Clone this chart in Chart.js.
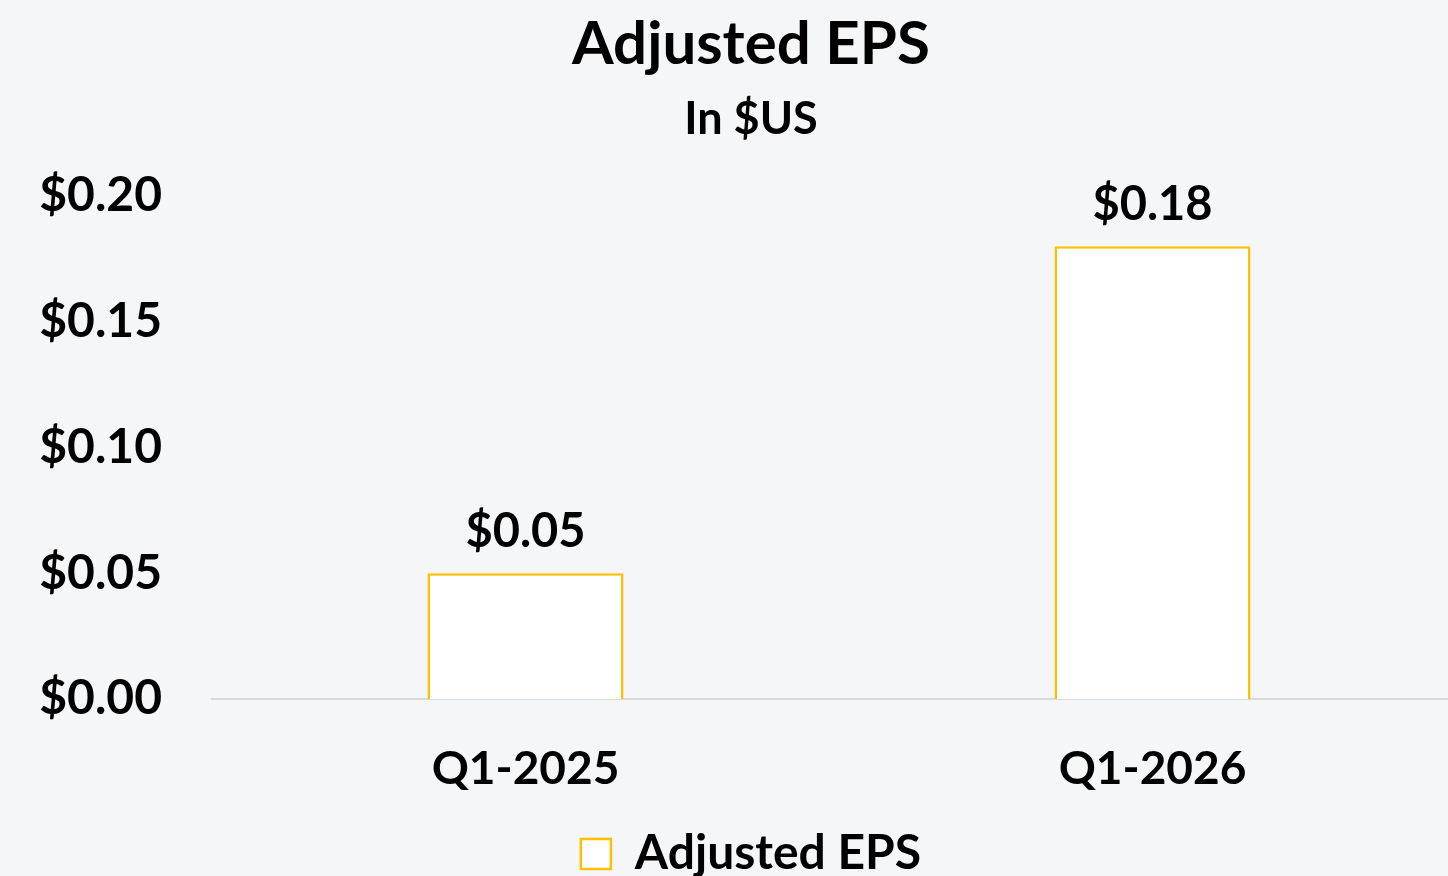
<!DOCTYPE html>
<html>
<head>
<meta charset="utf-8">
<script src="https://cdn.jsdelivr.net/npm/chart.js@4.4.1/dist/chart.umd.min.js"></script>
<style>
  html, body { margin: 0; padding: 0; background: #f5f6f8; overflow: hidden; }
  #wrap { width: 1466px; height: 888px; }
</style>
</head>
<body>
<div id="wrap"><canvas id="eps-chart"></canvas></div>
<script>
const categories = ["Q1-2025", "Q1-2026"];
const epsValues = [0.05, 0.18];
const yTicks = [0, 0.05, 0.1, 0.15, 0.2];

const FONT = "Lato, 'Open Sans', sans-serif";
const money = (v) => "$" + Number(v).toFixed(2);

// draws the value above each bar
const barValueLabels = {
  id: "barValueLabels",
  afterDatasetsDraw(chart) {
    const ctx = chart.ctx;
    const meta = chart.getDatasetMeta(0);
    ctx.save();
    ctx.font = "bold 47px " + FONT;
    ctx.fillStyle = "#000";
    ctx.textAlign = "center";
    ctx.textBaseline = "bottom";
    meta.data.forEach((bar, i) => {
      ctx.fillText(money(chart.data.datasets[0].data[i]), bar.x, bar.y - 18);
    });
    ctx.restore();
  },
};

new Chart("eps-chart", {
  type: "bar",
  data: {
    labels: categories,
    datasets: [
      {
        label: "Adjusted EPS",
        data: epsValues,
        backgroundColor: "#ffffff",
        borderColor: "#ffc000",
        borderWidth: 2.5,
        barPercentage: 1,
        categoryPercentage: 0.3126,
      },
    ],
  },
  options: {
    responsive: true,
    maintainAspectRatio: false,
    animation: false,
    layout: { padding: { left: 36, right: 0, top: 0, bottom: 0 } },
    plugins: {
      title: {
        display: true,
        text: "Adjusted EPS",
        color: "#000",
        font: { family: FONT, size: 60, weight: "bold" },
        padding: { top: 9, bottom: 0 },
      },
      subtitle: {
        display: true,
        text: "In $US",
        color: "#000",
        font: { family: FONT, size: 45, weight: "bold" },
        padding: { top: 11, bottom: 50 },
      },
      legend: {
        position: "bottom",
        labels: {
          color: "#000",
          font: { family: FONT, size: 48, weight: "bold" },
          boxWidth: 30,
          boxHeight: 30,
          padding: 10,
        },
      },
      tooltip: { enabled: false },
    },
    scales: {
      x: {
        grid: { display: false, drawTicks: false },
        border: { display: true, color: "#d9d9d9", width: 2 },
        ticks: {
          color: "#000",
          padding: 43,
          font: { family: FONT, size: 46, weight: "bold" },
        },
        afterFit: (scale) => { scale.height = 121; },
      },
      y: {
        min: 0,
        max: 0.2,
        grid: { display: false, drawTicks: false },
        border: { display: false },
        afterBuildTicks: (scale) => { scale.ticks = yTicks.map((v) => ({ value: v })); },
        ticks: {
          color: "#000",
          padding: 50,
          font: { family: FONT, size: 48, weight: "bold" },
          callback: (v) => money(v),
        },
        afterFit: (scale) => { scale.width = 176; },
      },
    },
  },
  plugins: [barValueLabels],
});
</script>
</body>
</html>
